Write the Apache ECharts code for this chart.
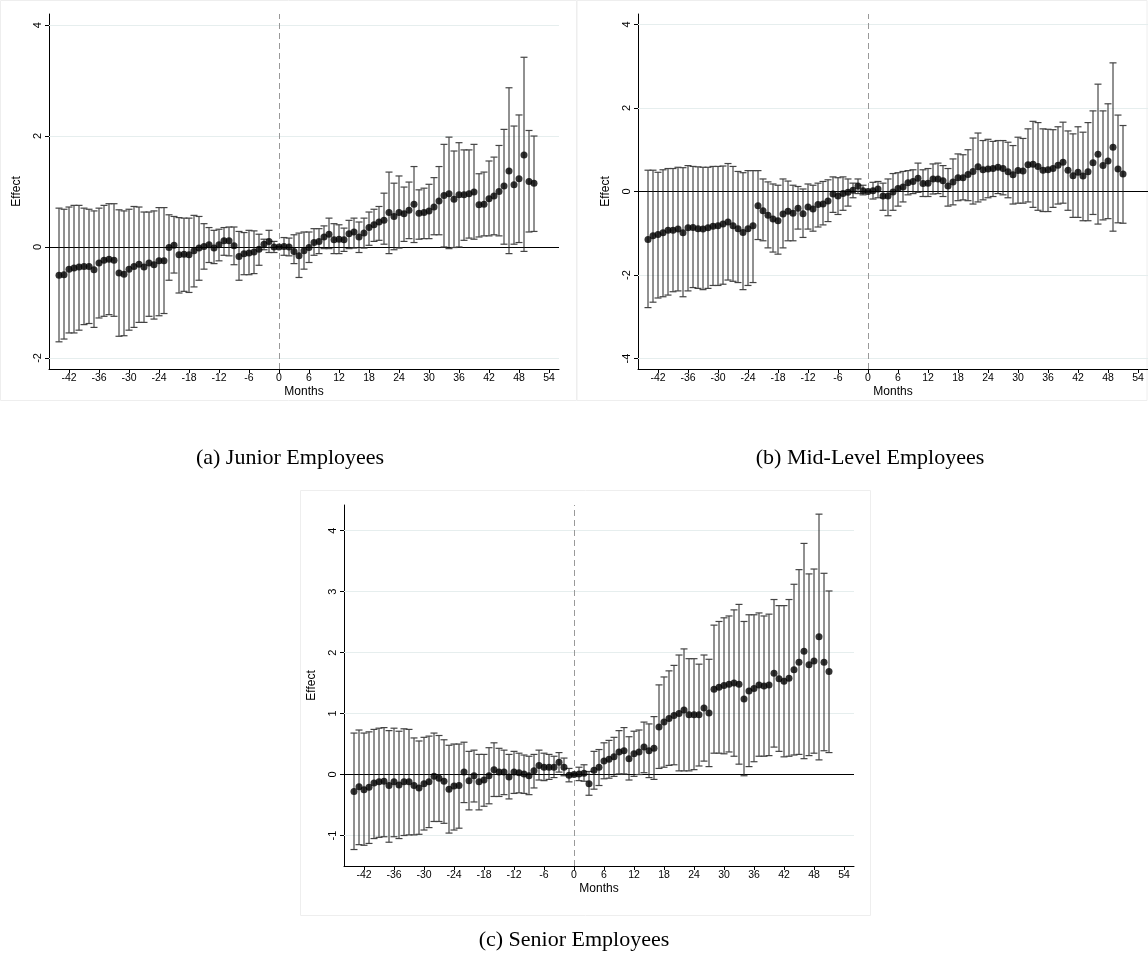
<!DOCTYPE html>
<html><head><meta charset="utf-8">
<script src="https://cdn.jsdelivr.net/npm/echarts@6/dist/echarts.min.js"></script>
<style>html,body{margin:0;padding:0;background:#fff}#c{width:1148px;height:958px}</style>
</head><body><div id="c"></div>
<script>
const months = []; for (let m = -44; m <= 51; m++) months.push(m);
const xTicks = [-42,-36,-30,-24,-18,-12,-6,0,6,12,18,24,30,36,42,48,54];

const juniorEst = [-0.51,-0.50,-0.40,-0.38,-0.36,-0.35,-0.35,-0.41,-0.29,-0.24,-0.22,-0.24,-0.47,-0.49,-0.40,-0.35,-0.31,-0.36,-0.29,-0.32,-0.25,-0.25,-0.01,0.03,-0.14,-0.13,-0.14,-0.07,-0.02,0.01,0.04,-0.02,0.04,0.11,0.11,0.02,-0.17,-0.12,-0.11,-0.09,-0.04,0.05,0.10,0.00,0.00,0.01,0.00,-0.08,-0.16,-0.07,-0.01,0.08,0.10,0.18,0.23,0.13,0.14,0.13,0.24,0.27,0.18,0.25,0.35,0.40,0.45,0.48,0.62,0.55,0.62,0.60,0.66,0.77,0.61,0.62,0.65,0.72,0.83,0.93,0.96,0.86,0.94,0.94,0.96,0.99,0.76,0.77,0.87,0.92,1.00,1.10,1.37,1.12,1.23,1.66,1.18,1.15];
const juniorHi = [0.70,0.68,0.72,0.75,0.75,0.70,0.68,0.65,0.70,0.75,0.78,0.78,0.67,0.65,0.68,0.73,0.72,0.63,0.63,0.65,0.71,0.71,0.58,0.55,0.53,0.52,0.52,0.57,0.55,0.42,0.35,0.30,0.32,0.35,0.36,0.36,0.28,0.26,0.30,0.29,0.23,0.14,0.30,0.10,0.01,0.17,0.16,0.22,0.25,0.27,0.27,0.33,0.33,0.38,0.52,0.42,0.40,0.34,0.48,0.52,0.45,0.52,0.63,0.68,0.73,0.97,1.35,1.15,1.28,1.08,1.17,1.45,1.03,1.06,1.13,1.25,1.45,1.85,1.98,1.73,1.88,1.75,1.75,1.85,1.32,1.35,1.55,1.62,1.83,2.12,2.87,2.18,2.38,3.42,2.10,2.00];
const juniorLo = [-1.71,-1.66,-1.55,-1.55,-1.50,-1.40,-1.38,-1.45,-1.28,-1.25,-1.22,-1.25,-1.61,-1.60,-1.50,-1.45,-1.36,-1.36,-1.25,-1.30,-1.24,-1.20,-0.60,-0.47,-0.83,-0.80,-0.82,-0.72,-0.60,-0.40,-0.28,-0.30,-0.25,-0.15,-0.16,-0.32,-0.60,-0.50,-0.50,-0.48,-0.33,-0.05,-0.10,-0.10,-0.01,-0.15,-0.16,-0.30,-0.55,-0.40,-0.28,-0.15,-0.12,-0.03,-0.03,-0.12,-0.12,-0.08,-0.03,-0.02,-0.10,-0.02,0.03,0.10,0.12,0.05,-0.12,-0.05,-0.02,0.10,0.15,0.08,0.14,0.15,0.15,0.22,0.22,0.00,-0.03,-0.01,0.00,0.12,0.16,0.14,0.18,0.20,0.20,0.22,0.20,0.05,-0.12,0.05,0.08,-0.08,0.27,0.28];

const midEst = [-1.15,-1.06,-1.03,-0.99,-0.93,-0.93,-0.90,-0.99,-0.87,-0.86,-0.89,-0.90,-0.87,-0.83,-0.82,-0.78,-0.73,-0.82,-0.89,-0.98,-0.89,-0.82,-0.34,-0.46,-0.57,-0.66,-0.70,-0.54,-0.47,-0.52,-0.40,-0.53,-0.37,-0.42,-0.31,-0.30,-0.23,-0.06,-0.11,-0.05,-0.02,0.03,0.13,0.02,0.00,0.02,0.06,-0.11,-0.11,-0.01,0.07,0.11,0.21,0.24,0.32,0.19,0.20,0.30,0.30,0.26,0.13,0.23,0.33,0.33,0.41,0.48,0.59,0.52,0.54,0.55,0.58,0.55,0.47,0.40,0.50,0.49,0.64,0.65,0.60,0.51,0.52,0.55,0.63,0.70,0.51,0.38,0.46,0.37,0.47,0.69,0.89,0.62,0.73,1.06,0.54,0.42];
const midHi = [0.51,0.51,0.46,0.52,0.55,0.55,0.58,0.57,0.62,0.60,0.59,0.58,0.58,0.60,0.60,0.61,0.67,0.60,0.48,0.45,0.50,0.50,0.50,0.30,0.23,0.18,0.15,0.30,0.25,0.15,0.12,0.06,0.18,0.15,0.20,0.24,0.28,0.35,0.33,0.35,0.30,0.20,0.30,0.15,0.01,0.22,0.24,0.20,0.30,0.43,0.45,0.48,0.50,0.52,0.68,0.52,0.55,0.66,0.68,0.62,0.55,0.78,0.90,0.88,1.00,1.28,1.40,1.22,1.25,1.20,1.22,1.22,1.18,1.10,1.30,1.27,1.50,1.68,1.65,1.50,1.49,1.48,1.55,1.66,1.45,1.38,1.55,1.42,1.65,1.93,2.57,1.93,2.10,3.08,1.83,1.58];
const midLo = [-2.78,-2.65,-2.55,-2.52,-2.48,-2.40,-2.38,-2.52,-2.38,-2.30,-2.32,-2.35,-2.32,-2.25,-2.25,-2.22,-2.12,-2.15,-2.18,-2.35,-2.25,-2.18,-1.15,-1.18,-1.35,-1.45,-1.50,-1.35,-1.18,-1.18,-0.90,-1.10,-0.90,-0.95,-0.85,-0.80,-0.72,-0.50,-0.55,-0.45,-0.35,-0.15,-0.05,-0.08,-0.01,-0.18,-0.15,-0.45,-0.58,-0.45,-0.35,-0.25,-0.08,-0.05,-0.02,-0.12,-0.12,-0.06,-0.05,-0.12,-0.35,-0.32,-0.22,-0.20,-0.22,-0.30,-0.25,-0.20,-0.15,-0.12,-0.05,-0.08,-0.15,-0.30,-0.28,-0.28,-0.25,-0.38,-0.45,-0.48,-0.48,-0.38,-0.30,-0.28,-0.45,-0.62,-0.62,-0.70,-0.70,-0.55,-0.78,-0.68,-0.65,-0.95,-0.75,-0.76];

const seniorEst = [-0.28,-0.20,-0.25,-0.21,-0.14,-0.12,-0.11,-0.18,-0.12,-0.17,-0.12,-0.12,-0.18,-0.22,-0.15,-0.12,-0.03,-0.06,-0.11,-0.24,-0.19,-0.18,0.04,-0.10,-0.02,-0.12,-0.09,-0.02,0.08,0.04,0.04,-0.04,0.04,0.03,0.01,-0.02,0.06,0.15,0.12,0.12,0.12,0.20,0.12,-0.01,0.00,0.01,0.02,-0.15,0.07,0.12,0.22,0.25,0.29,0.37,0.39,0.26,0.34,0.37,0.45,0.39,0.43,0.78,0.86,0.92,0.97,1.00,1.06,0.98,0.98,0.98,1.09,1.01,1.40,1.43,1.46,1.48,1.50,1.48,1.24,1.37,1.41,1.47,1.45,1.47,1.66,1.57,1.53,1.58,1.72,1.84,2.02,1.80,1.86,2.26,1.84,1.69];
const seniorHi = [0.68,0.73,0.68,0.70,0.74,0.76,0.77,0.72,0.76,0.71,0.75,0.74,0.60,0.55,0.61,0.63,0.68,0.64,0.57,0.48,0.50,0.50,0.53,0.38,0.40,0.33,0.33,0.44,0.52,0.43,0.40,0.33,0.38,0.35,0.32,0.30,0.33,0.40,0.35,0.33,0.30,0.36,0.27,0.10,0.02,0.12,0.16,0.05,0.38,0.41,0.52,0.56,0.61,0.72,0.77,0.62,0.71,0.73,0.86,0.83,0.95,1.47,1.60,1.70,1.79,1.96,2.06,1.90,1.90,1.81,1.96,1.89,2.45,2.51,2.57,2.60,2.70,2.79,2.51,2.62,2.62,2.65,2.60,2.63,2.87,2.77,2.77,2.87,3.12,3.36,3.79,3.29,3.37,4.27,3.30,3.01];
const seniorLo = [-1.23,-1.15,-1.16,-1.13,-1.05,-1.03,-1.02,-1.11,-1.02,-1.05,-1.00,-0.99,-0.99,-0.98,-0.91,-0.87,-0.77,-0.77,-0.80,-0.96,-0.91,-0.88,-0.46,-0.58,-0.45,-0.58,-0.52,-0.48,-0.36,-0.36,-0.33,-0.40,-0.31,-0.30,-0.31,-0.33,-0.22,-0.09,-0.10,-0.08,-0.05,0.04,-0.02,-0.12,-0.02,-0.10,-0.11,-0.34,-0.24,-0.18,-0.07,-0.06,-0.03,0.01,0.01,-0.09,-0.03,0.00,0.03,-0.05,-0.08,0.10,0.12,0.15,0.16,0.06,0.06,0.06,0.08,0.14,0.22,0.13,0.35,0.35,0.34,0.37,0.30,0.17,-0.02,0.13,0.21,0.30,0.30,0.31,0.45,0.38,0.29,0.30,0.32,0.33,0.26,0.31,0.35,0.24,0.39,0.36];

const panels = [
  {est: juniorEst, lo: juniorLo, hi: juniorHi, yTicks: [-2,0,2,4], ymin: -2.2, ymax: 4.2, grid: {left: 49, top: 14, width: 510, height: 355}},
  {est: midEst, lo: midLo, hi: midHi, yTicks: [-4,-2,0,2,4], ymin: -4.25, ymax: 4.25, grid: {left: 638, top: 14, width: 510, height: 355}},
  {est: seniorEst, lo: seniorLo, hi: seniorHi, yTicks: [-1,0,1,2,3,4], ymin: -1.5, ymax: 4.42, grid: {left: 344, top: 505, width: 510, height: 361}}
];

const font = 'Liberation Sans, Arial, sans-serif';
const grids = [], xAxes = [], yAxes = [], series = [];
panels.forEach((p, i) => {
  grids.push(Object.assign({outerBoundsMode: 'none', containLabel: false}, p.grid));
  xAxes.push({type: 'value', gridIndex: i, min: -46, max: 56,
    name: 'Months', nameLocation: 'middle', nameGap: 17, nameTextStyle: {fontFamily: font, fontSize: 12, color: '#000'},
    axisLine: {onZero: false, lineStyle: {color: '#000', width: 1}},
    axisTick: {customValues: xTicks, length: 4, lineStyle: {color: '#000'}},
    axisLabel: {customValues: xTicks, fontFamily: font, fontSize: 10.5, color: '#000', margin: 4},
    splitLine: {show: false}});
  yAxes.push({type: 'value', gridIndex: i, min: p.ymin, max: p.ymax,
    name: 'Effect', nameLocation: 'middle', nameGap: 26, nameTextStyle: {fontFamily: font, fontSize: 12, color: '#000'},
    axisLine: {show: true, onZero: false, lineStyle: {color: '#000', width: 1}},
    axisTick: {show: true, customValues: p.yTicks, length: 4, lineStyle: {color: '#000'}},
    axisLabel: {customValues: p.yTicks, rotate: 90, fontFamily: font, fontSize: 11, color: '#000', margin: 6},
    splitLine: {show: false}});
  const errData = months.map((m, k) => [m, p.lo[k], p.hi[k]]);
  series.push({type: 'custom', xAxisIndex: i, yAxisIndex: i, data: errData, z: 2,
    renderItem: (params, api) => {
      const x = api.value(0);
      const a = api.coord([x, api.value(1)]);
      const b = api.coord([x, api.value(2)]);
      const cw = 3.5;
      return {type: 'group', children: [
        {type: 'line', shape: {x1: a[0], y1: a[1], x2: b[0], y2: b[1]}, style: {stroke: '#222', lineWidth: 1}},
        {type: 'line', shape: {x1: a[0]-cw, y1: a[1], x2: a[0]+cw, y2: a[1]}, style: {stroke: '#444', lineWidth: 1.2}},
        {type: 'line', shape: {x1: b[0]-cw, y1: b[1], x2: b[0]+cw, y2: b[1]}, style: {stroke: '#444', lineWidth: 1.2}}
      ]};
    }});
  const gridMarks = p.yTicks.filter(v => v !== 0).map(v => ({yAxis: v, lineStyle: {color: '#e6eeee', width: 1, type: 'solid'}}));
  series.push({type: 'scatter', xAxisIndex: i, yAxisIndex: i, z: 3,
    data: months.map((m, k) => [m, p.est[k]]), symbolSize: 7, itemStyle: {color: '#000'},
    markLine: {silent: true, symbol: 'none', label: {show: false}, z: 1,
      data: gridMarks.concat([
        {yAxis: 0, lineStyle: {color: '#000', width: 1.2, type: 'solid'}},
        {xAxis: 0, lineStyle: {color: '#999', width: 1, type: [6, 4]}}])}});
});

const chart = echarts.init(document.getElementById('c'));
chart.setOption({
  animation: false, backgroundColor: '#fff',
  grid: grids, xAxis: xAxes, yAxis: yAxes, series: series,
  graphic: [
    {type: 'rect', shape: {x: 0.5, y: 0.5, width: 576, height: 400}, style: {fill: 'none', stroke: '#eee'}},
    {type: 'rect', shape: {x: 577, y: 0.5, width: 570, height: 400}, style: {fill: 'none', stroke: '#eee'}},
    {type: 'rect', shape: {x: 300.5, y: 490.5, width: 570, height: 425}, style: {fill: 'none', stroke: '#eee'}},
    {type: 'text', x: 290, y: 458, style: {text: '(a) Junior Employees', font: '22px "Liberation Serif", "Times New Roman", serif', fill: '#000', align: 'center', verticalAlign: 'middle'}},
    {type: 'text', x: 870, y: 458, style: {text: '(b) Mid-Level Employees', font: '22px "Liberation Serif", "Times New Roman", serif', fill: '#000', align: 'center', verticalAlign: 'middle'}},
    {type: 'text', x: 574, y: 940, style: {text: '(c) Senior Employees', font: '22px "Liberation Serif", "Times New Roman", serif', fill: '#000', align: 'center', verticalAlign: 'middle'}}
  ]
});
</script></body></html>
